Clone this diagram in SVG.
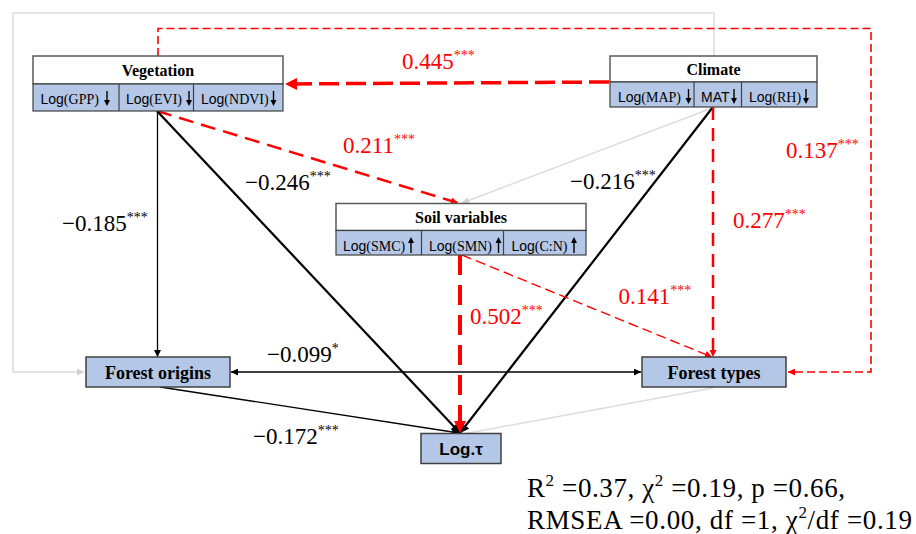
<svg xmlns="http://www.w3.org/2000/svg" width="916" height="534" viewBox="0 0 916 534">
<style>
.hdr{fill:#fff;stroke:#595959;stroke-width:1.5}
.sub{fill:#b4c7e7;stroke:#404040;stroke-width:1.2}
.div{stroke:#404040;stroke-width:1.2}
.box{fill:#b4c7e7;stroke:#404040;stroke-width:1.5}
.ht{font-family:"Liberation Serif",serif;font-weight:bold;font-size:16px;fill:#000;text-anchor:middle}
.bt{font-family:"Liberation Serif",serif;font-weight:bold;font-size:18px;fill:#000;text-anchor:middle}
.st{font-family:"Liberation Serif",serif;font-size:14px;fill:#000}
.sa{font-family:"Liberation Sans",sans-serif}
.coef{font-family:"Liberation Serif",serif;font-size:23px}
.red{fill:#ff0000}
.blk{fill:#000}
.sup{font-size:14px}
.fit{font-family:"Liberation Serif",serif;font-size:27px;fill:#000}
.gray{fill:none;stroke:#dcdcdc;stroke-width:1.5}
</style>
<defs>
<marker id="aBk" viewBox="0 0 10 10" refX="10" refY="5" markerWidth="9" markerHeight="7" markerUnits="userSpaceOnUse" orient="auto-start-reverse"><path d="M0,0 L10,5 L0,10 z" fill="#000"/></marker>
<marker id="aBkL" viewBox="0 0 10 10" refX="10" refY="5" markerWidth="11" markerHeight="9" markerUnits="userSpaceOnUse" orient="auto"><path d="M0,0 L10,5 L0,10 z" fill="#000"/></marker>
<marker id="aRd" viewBox="0 0 10 10" refX="10" refY="5" markerWidth="9" markerHeight="7" markerUnits="userSpaceOnUse" orient="auto"><path d="M0,0 L10,5 L0,10 z" fill="#ff0000"/></marker>
<marker id="aRdL" viewBox="0 0 10 10" refX="10" refY="5" markerWidth="15" markerHeight="12" markerUnits="userSpaceOnUse" orient="auto"><path d="M0,0 L10,5 L0,10 z" fill="#ff0000"/></marker>
<marker id="aGy" viewBox="0 0 10 10" refX="10" refY="5" markerWidth="9" markerHeight="7" markerUnits="userSpaceOnUse" orient="auto"><path d="M0,0 L10,5 L0,10 z" fill="#d0d0d0"/></marker>
<g id="dn"><line x1="0" y1="0" x2="0" y2="10" stroke="#000" stroke-width="1.4"/><path d="M-3,9 L3,9 L0,15 z" fill="#000"/></g>
<g id="up"><line x1="0" y1="5" x2="0" y2="16" stroke="#000" stroke-width="1.4"/><path d="M-3,6 L3,6 L0,0 z" fill="#000"/></g>
</defs>

<g id="connectors">
  <path class="gray" d="M714,56 L714,13 L13,13 L13,372 L84,372" marker-end="url(#aGy)"/>
  <line class="gray" x1="712" y1="108" x2="462" y2="203" marker-end="url(#aGy)"/>
  <line class="gray" x1="713" y1="388" x2="463" y2="434"/>
  <path d="M158,56 L158,28.5 L871,28.5 L871,372 L788,372" fill="none" stroke="#ff0000" stroke-width="1.6" stroke-dasharray="8 4" marker-end="url(#aRd)"/>
  <line x1="609" y1="82" x2="285" y2="84" stroke="#ff0000" stroke-width="3.5" stroke-dasharray="20 7" marker-end="url(#aRdL)"/>
  <line x1="157" y1="111" x2="458" y2="203" stroke="#ff0000" stroke-width="2.5" stroke-dasharray="15 8" marker-end="url(#aRd)"/>
  <line x1="157" y1="111" x2="460" y2="433" stroke="#000" stroke-width="2.2" marker-end="url(#aBkL)"/>
  <line x1="157.5" y1="111" x2="157.5" y2="357" stroke="#000" stroke-width="1.3" marker-end="url(#aBk)"/>
  <line x1="713" y1="107" x2="460" y2="433" stroke="#000" stroke-width="2.2" marker-end="url(#aBkL)"/>
  <line x1="713" y1="107" x2="713" y2="357" stroke="#ff0000" stroke-width="2.5" stroke-dasharray="13 8" marker-end="url(#aRd)"/>
  <line x1="460" y1="255" x2="460" y2="433" stroke="#ff0000" stroke-width="4" stroke-dasharray="20 10" marker-end="url(#aRdL)"/>
  <line x1="462" y1="255" x2="712" y2="357" stroke="#ff0000" stroke-width="1.4" stroke-dasharray="10 5" marker-end="url(#aRd)"/>
  <line x1="231" y1="372" x2="641" y2="372" stroke="#000" stroke-width="1.3" marker-start="url(#aBk)" marker-end="url(#aBk)"/>
  <line x1="160" y1="387" x2="459" y2="433" stroke="#000" stroke-width="1.3" marker-end="url(#aBk)"/>
</g>

<g id="vegetation">
  <rect class="hdr" x="33" y="56" width="250" height="28"/>
  <rect class="sub" x="33" y="84" width="250" height="27"/>
  <line class="div" x1="119" y1="84" x2="119" y2="111"/>
  <line class="div" x1="193.5" y1="84" x2="193.5" y2="111"/>
  <text class="ht" x="158" y="75.5">Vegetation</text>
  <text class="st" x="40.5" y="104"><tspan class="sa">Log</tspan>(GPP)</text>
  <text class="st" x="126" y="104"><tspan class="sa">Log</tspan>(EVI)</text>
  <text class="st" x="201" y="104"><tspan class="sa">Log</tspan>(NDVI)</text>
  <use href="#dn" x="107" y="91"/>
  <use href="#dn" x="189" y="91"/>
  <use href="#dn" x="273.5" y="91"/>
</g>

<g id="climate">
  <rect class="hdr" x="610" y="56" width="207" height="26"/>
  <rect class="sub" x="610" y="82" width="207" height="25"/>
  <line class="div" x1="694" y1="82" x2="694" y2="107"/>
  <line class="div" x1="741.5" y1="82" x2="741.5" y2="107"/>
  <text class="ht" x="713.5" y="74.5">Climate</text>
  <text class="st" x="618" y="102"><tspan class="sa">Log</tspan>(MAP)</text>
  <text class="st sa" x="701" y="102">MAT</text>
  <text class="st" x="749" y="102"><tspan class="sa">Log</tspan>(RH)</text>
  <use href="#dn" x="688.5" y="89"/>
  <use href="#dn" x="734" y="89"/>
  <use href="#dn" x="806" y="89"/>
</g>

<g id="soil">
  <rect class="hdr" x="336" y="203.5" width="250" height="27"/>
  <rect class="sub" x="336" y="230.5" width="250" height="24.5"/>
  <line class="div" x1="421.5" y1="230.5" x2="421.5" y2="255"/>
  <line class="div" x1="503.5" y1="230.5" x2="503.5" y2="255"/>
  <text class="ht" x="461" y="222.5">Soil variables</text>
  <text class="st" x="343" y="250.5"><tspan class="sa">Log</tspan>(SMC)</text>
  <text class="st" x="429" y="250.5"><tspan class="sa">Log</tspan>(SMN)</text>
  <text class="st" x="511.5" y="250.5"><tspan class="sa">Log</tspan>(C:N)</text>
  <use href="#up" x="411" y="237"/>
  <use href="#up" x="498.5" y="237"/>
  <use href="#up" x="574" y="237"/>
</g>

<g id="forest-origins">
  <rect class="box" x="86" y="357" width="144" height="30"/>
  <text class="bt" x="158" y="378.5">Forest origins</text>
</g>

<g id="forest-types">
  <rect class="box" x="642" y="357" width="144" height="30"/>
  <text class="bt" x="714" y="378.5">Forest types</text>
</g>

<g id="log-tau">
  <rect class="box" x="421" y="433.5" width="80" height="30"/>
  <text x="461" y="455" font-family="Liberation Sans, sans-serif" font-weight="bold" font-size="17" text-anchor="middle">Log.τ</text>
</g>

<g id="labels">
  <text class="coef red" x="402" y="69">0.445<tspan class="sup" dy="-9">***</tspan></text>
  <text class="coef red" x="343" y="153">0.211<tspan class="sup" dy="-9">***</tspan></text>
  <text class="coef blk" x="245" y="190">−0.246<tspan class="sup" dy="-9">***</tspan></text>
  <text class="coef blk" x="570" y="189">−0.216<tspan class="sup" dy="-9">***</tspan></text>
  <text class="coef red" x="786" y="158">0.137<tspan class="sup" dy="-9">***</tspan></text>
  <text class="coef red" x="733" y="227.5">0.277<tspan class="sup" dy="-9">***</tspan></text>
  <text class="coef blk" x="62" y="231">−0.185<tspan class="sup" dy="-9">***</tspan></text>
  <text class="coef red" x="618.5" y="304">0.141<tspan class="sup" dy="-9">***</tspan></text>
  <text class="coef red" x="470" y="324">0.502<tspan class="sup" dy="-9">***</tspan></text>
  <text class="coef blk" x="267" y="361.5">−0.099<tspan class="sup" dy="-9">*</tspan></text>
  <text class="coef blk" x="253" y="444">−0.172<tspan class="sup" dy="-9">***</tspan></text>
</g>

<g id="fit">
  <text class="fit" x="527" y="497" textLength="318" lengthAdjust="spacing">R<tspan font-size="17" dy="-11">2</tspan><tspan dy="11"> =0.37, χ</tspan><tspan font-size="17" dy="-11">2</tspan><tspan dy="11"> =0.19, p =0.66,</tspan></text>
  <text class="fit" x="527" y="528.5" textLength="385" lengthAdjust="spacing">RMSEA =0.00, df =1, χ<tspan font-size="17" dy="-11">2</tspan><tspan dy="11">/df =0.19</tspan></text>
</g>
</svg>
